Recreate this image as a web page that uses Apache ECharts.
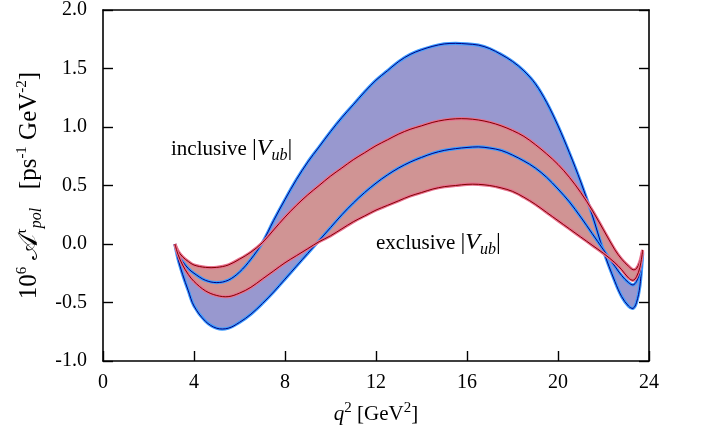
<!DOCTYPE html>
<html>
<head>
<meta charset="utf-8">
<script src="https://cdn.jsdelivr.net/npm/echarts@6/dist/echarts.min.js"></script>
<style>
  html, body { margin: 0; padding: 0; background: #fff; }
  #chart { width: 704px; height: 439px; }
</style>
</head>
<body>
<div id="chart"></div>
<script>
// q^2 grid (GeV^2)
const q2 = [3.16, 3.3, 3.5, 3.75, 4, 4.5, 5, 5.5, 6, 6.5, 7, 7.5, 8, 8.5, 9, 9.5, 10, 10.5, 11, 11.5, 12, 12.5, 13, 13.5, 14, 14.5, 15, 15.5, 16, 16.5, 17, 17.5, 18, 18.5, 19, 19.5, 20, 20.5, 21, 21.5, 22, 22.5, 22.8, 23.1, 23.3, 23.45, 23.6, 23.72];

// inclusive |Vub| band (blue)
const inclA = [0, -0.09, -0.15, -0.21, -0.25, -0.31, -0.33, -0.31, -0.24, -0.13, 0.01, 0.20, 0.38, 0.55, 0.70, 0.83, 0.96, 1.08, 1.19, 1.30, 1.40, 1.48, 1.56, 1.62, 1.66, 1.69, 1.71, 1.715, 1.71, 1.70, 1.67, 1.62, 1.56, 1.48, 1.37, 1.21, 1.01, 0.78, 0.53, 0.25, -0.06, -0.32, -0.45, -0.53, -0.55, -0.50, -0.36, -0.08];
const inclB = [0, -0.13, -0.26, -0.40, -0.53, -0.66, -0.72, -0.72, -0.67, -0.60, -0.51, -0.41, -0.30, -0.19, -0.08, 0.03, 0.14, 0.25, 0.35, 0.44, 0.52, 0.59, 0.65, 0.70, 0.74, 0.775, 0.80, 0.815, 0.825, 0.83, 0.82, 0.80, 0.76, 0.71, 0.65, 0.57, 0.47, 0.36, 0.23, 0.09, -0.05, -0.19, -0.27, -0.33, -0.35, -0.32, -0.24, -0.07];

// exclusive |Vub| band (red)
const exclC = [0, -0.06, -0.11, -0.15, -0.18, -0.20, -0.20, -0.18, -0.13, -0.07, 0.01, 0.12, 0.23, 0.33, 0.42, 0.50, 0.58, 0.65, 0.72, 0.78, 0.84, 0.89, 0.94, 0.98, 1.01, 1.04, 1.06, 1.07, 1.07, 1.06, 1.04, 1.01, 0.97, 0.92, 0.85, 0.77, 0.68, 0.57, 0.44, 0.29, 0.12, -0.05, -0.13, -0.19, -0.22, -0.21, -0.15, -0.05];
const exclD = [0, -0.09, -0.18, -0.26, -0.32, -0.40, -0.44, -0.45, -0.42, -0.37, -0.30, -0.23, -0.16, -0.10, -0.04, 0.02, 0.07, 0.13, 0.19, 0.24, 0.29, 0.33, 0.37, 0.41, 0.44, 0.47, 0.49, 0.50, 0.51, 0.51, 0.50, 0.48, 0.45, 0.40, 0.34, 0.27, 0.20, 0.13, 0.06, -0.01, -0.08, -0.16, -0.22, -0.29, -0.31, -0.28, -0.20, -0.06];

const xTicks = [0, 4, 8, 12, 16, 20, 24];
const yTicks = [-1.0, -0.5, 0.0, 0.5, 1.0, 1.5, 2.0];

const FONT = 'Liberation Serif';
const SMOOTH = 0.35;
const chart = echarts.init(document.getElementById('chart'));

// filled band between two curves, through the axis scales
function band(upper, lower, color) {
  return {
    type: 'custom',
    silent: true,
    data: [[0, 0]],
    renderItem: function (params, api) {
      const pts = [];
      for (let i = 0; i < q2.length; i++) pts.push(api.coord([q2[i], upper[i]]));
      for (let i = q2.length - 1; i >= 0; i--) pts.push(api.coord([q2[i], lower[i]]));
      return { type: 'polygon', shape: { points: pts, smooth: SMOOTH }, style: { fill: color } };
    }
  };
}

// outline of one curve: light halo with a thin dark core
function curve(ys, halo, core) {
  return {
    type: 'custom',
    silent: true,
    data: [[0, 0]],
    renderItem: function (params, api) {
      const pts = q2.map((x, i) => api.coord([x, ys[i]]));
      return {
        type: 'group',
        children: [
          { type: 'polyline', shape: { points: pts, smooth: SMOOTH }, style: { stroke: halo, lineWidth: 3.2, fill: null } },
          { type: 'polyline', shape: { points: pts, smooth: SMOOTH }, style: { stroke: core, lineWidth: 1, fill: null } }
        ]
      };
    }
  };
}

const axisLine = { onZero: false, lineStyle: { color: '#000', width: 1.6 } };
const tickIn = { inside: true, length: 10, lineStyle: { color: '#000', width: 1.4 } };
const sup = { fontSize: 15, fontFamily: FONT, verticalAlign: 'top', lineHeight: 15 };
const sub = { fontSize: 16, fontFamily: FONT, fontStyle: 'italic', verticalAlign: 'bottom', lineHeight: 16 };
const big = { fontSize: 24, fontFamily: FONT, lineHeight: 30 };
const bigI = { fontSize: 24, fontFamily: FONT, fontStyle: 'italic', lineHeight: 30 };

const option = {
  animation: false,
  grid: { left: 103, right: 55, top: 10, bottom: 78 },
  xAxis: [{
    type: 'value', min: xTicks[0], max: xTicks[xTicks.length - 1], interval: 4,
    axisLine: axisLine, axisTick: tickIn, splitLine: { show: false },
    axisLabel: { margin: 12, fontSize: 20, fontFamily: FONT, color: '#000' },
    name: '{i|q}{s|2} [GeV{s|2}]',
    nameLocation: 'middle', nameGap: 40,
    nameTextStyle: {
      fontSize: 21, fontFamily: FONT, color: '#000', lineHeight: 26,
      rich: { i: { fontSize: 21, fontFamily: FONT, fontStyle: 'italic', lineHeight: 26 }, s: sup }
    }
  }, {
    type: 'value', position: 'top', min: 0, max: 24, interval: 4,
    axisLine: axisLine, axisTick: { show: false }, axisLabel: { show: false }, splitLine: { show: false }
  }],
  yAxis: [{
    type: 'value', min: yTicks[0], max: yTicks[yTicks.length - 1], interval: 0.5,
    axisLine: axisLine, axisTick: tickIn, splitLine: { show: false },
    axisLabel: {
      margin: 16, fontSize: 20, fontFamily: FONT, color: '#000',
      formatter: v => v.toFixed(1)
    },
    name: '10{s|6} {a|𝒜}{s|τ}{b|pol}   [ps{s|-1} GeV{s|-2}]',
    nameLocation: 'middle', nameGap: 40, nameRotate: 90,
    nameTextStyle: {
      fontSize: 25, fontFamily: FONT, color: '#000', lineHeight: 30,
      rich: { a: { fontSize: 27, fontFamily: FONT, lineHeight: 30 }, s: sup, b: sub }
    }
  }, {
    type: 'value', position: 'right', min: -1, max: 2, interval: 0.5,
    axisLine: axisLine, axisTick: tickIn, axisLabel: { show: false }, splitLine: { show: false }
  }],
  graphic: [{
    type: 'text', left: 171, top: 134, silent: true,
    style: {
      text: 'inclusive {g||}{i|V}{b|ub}{g||}',
      fontSize: 21, fontFamily: FONT, fill: '#000', lineHeight: 30,
      rich: { g: big, i: bigI, b: sub }
    }
  }, {
    type: 'text', left: 376, top: 228, silent: true,
    style: {
      text: 'exclusive {g||}{i|V}{b|ub}{g||}',
      fontSize: 21, fontFamily: FONT, fill: '#000', lineHeight: 30,
      rich: { g: big, i: bigI, b: sub }
    }
  }],
  series: [
    band(inclA, inclB, '#9898cf'),
    band(exclC, exclD, '#d09494'),
    curve(inclA, '#3d9bff', '#000080'),
    curve(inclB, '#3d9bff', '#000080'),
    curve(exclC, '#e8708e', '#800000'),
    curve(exclD, '#e8708e', '#800000')
  ]
};

chart.setOption(option);
</script>
</body>
</html>
